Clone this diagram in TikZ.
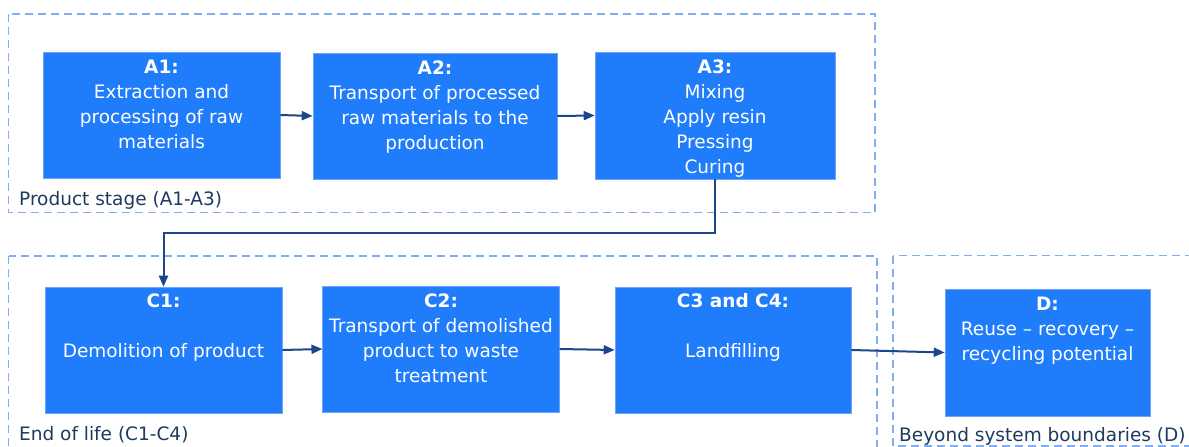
\documentclass[tikz,border=0pt]{standalone}
\usepackage{fontspec}
\setmainfont{DejaVu Sans}
\usetikzlibrary{arrows.meta}
\definecolor{boxblue}{RGB}{31,124,250}
\definecolor{boxedge}{RGB}{110,165,250}
\definecolor{framecol}{RGB}{125,175,242}
\definecolor{conncol}{RGB}{28,70,138}
\definecolor{labcol}{RGB}{30,58,95}
\tikzset{
  stagebox/.style={rectangle, fill=boxblue, draw=boxedge, line width=0.6pt, inner sep=0pt},
  boxtext/.style={anchor=north, inner sep=0pt, align=center, text=white,
    font=\fontsize{18.5}{24.8}\selectfont},
  framebox/.style={draw=framecol, line width=1.8pt, dash pattern=on 8pt off 5pt},
  framelabel/.style={anchor=base west, inner sep=0pt, text=labcol,
    font=\fontsize{18.5}{24.8}\selectfont},
  conn/.style={draw=conncol, line width=2pt, -{Triangle[length=11pt,width=9pt]}},
}
\newcommand{\firstline}[1]{\rule{0pt}{14pt}\textbf{#1}}
\begin{document}
\begin{tikzpicture}[x=1pt,y=-1pt]
\useasboundingbox (0,0) rectangle (1189,447);
\clip (0,0) rectangle (1189,447);
% frames
\draw[framebox] (8.5,14) rectangle (875,212.5);
\draw[framebox] (8.5,256) rectangle (877,470);
\draw[framebox] (893,255.5) rectangle (1210,446);
\node[framelabel] (l1) at (19,205) {Product stage (A1-A3)};
\node[framelabel] (l2) at (19,440) {End of life (C1-C4)};
\node[framelabel] (l3) at (899,441) {Beyond system boundaries (D)};
% boxes
\node[stagebox, minimum width=237pt, minimum height=126pt] (a1) at (161.5,115) {};
\node[stagebox, minimum width=244pt, minimum height=126pt] (a2) at (435,116) {};
\node[stagebox, minimum width=240pt, minimum height=127pt] (a3) at (715,115.5) {};
\node[stagebox, minimum width=237pt, minimum height=126pt] (c1) at (163.5,350) {};
\node[stagebox, minimum width=236.5pt, minimum height=126pt] (c2) at (441,349) {};
\node[stagebox, minimum width=236pt, minimum height=126pt] (c3) at (733,350) {};
\node[stagebox, minimum width=205pt, minimum height=127pt] (d) at (1047.5,352.5) {};
% texts
\node[boxtext] (a1t) at ([yshift=-8pt]a1.north) {\firstline{A1:}\\Extraction and\\processing of raw\\materials};
\node[boxtext] (a2t) at ([yshift=-8pt]a2.north) {\firstline{A2:}\\Transport of processed\\raw materials to the\\production};
\node[boxtext] (a3t) at ([yshift=-8pt]a3.north) {\firstline{A3:}\\Mixing\\Apply resin\\Pressing\\Curing};
\node[boxtext] (c1t) at ([yshift=-7pt]c1.north) {\firstline{C1:}\\[24.8pt]Demolition of product};
\node[boxtext] (c2t) at ([yshift=-8pt]c2.north) {\firstline{C2:}\\Transport of demolished\\product to waste\\treatment};
\node[boxtext] (c3t) at ([yshift=-7pt]c3.north) {\firstline{C3 and C4:}\\[24.8pt]Landfilling};
\node[boxtext] (dt) at ([yshift=-8pt]d.north) {\firstline{D:}\\Reuse -- recovery --\\recycling potential};
% connectors
\draw[conn] (a1.east) -- (a2.west);
\draw[conn] (a2.east) -- (a3.west);
\draw[conn] (a3.south) -- ++(0,54) -| (c1.north);
\draw[conn] (c1.east) -- (c2.west);
\draw[conn] (c2.east) -- (c3.west);
\draw[conn] (c3.east) -- (d.west);
\end{tikzpicture}
\end{document}
